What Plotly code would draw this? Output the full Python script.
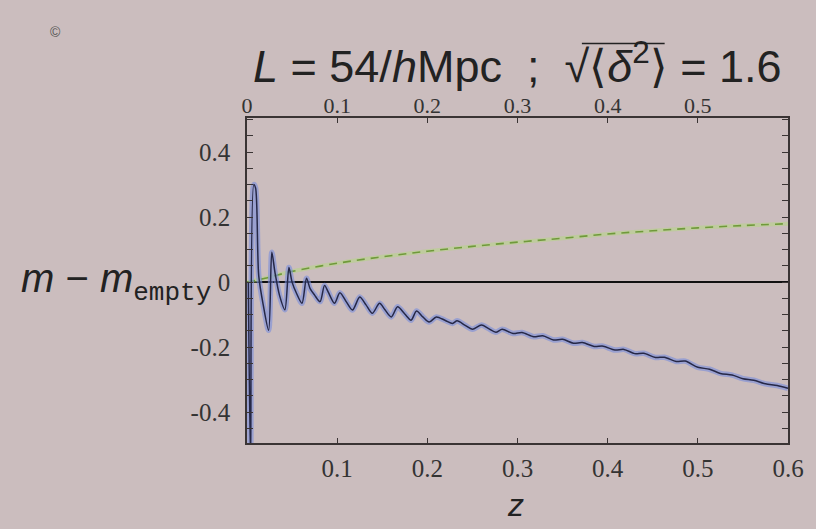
import plotly.graph_objects as go

# ---- data ----
z_osc = [0.0015, 0.004, 0.0075, 0.0095, 0.013, 0.018, 0.024, 0.0275, 0.031, 0.036,
         0.042, 0.0465, 0.050, 0.055, 0.061, 0.066, 0.070, 0.075, 0.081, 0.086,
         0.090, 0.097, 0.103, 0.110, 0.117, 0.125, 0.132, 0.139, 0.147, 0.153,
         0.160, 0.167, 0.175, 0.182, 0.188, 0.195, 0.202, 0.210, 0.220, 0.228,
         0.233, 0.242, 0.250, 0.260, 0.268, 0.276, 0.283, 0.295, 0.305, 0.318,
         0.328, 0.340, 0.350, 0.362, 0.372, 0.385, 0.395, 0.408, 0.418, 0.430,
         0.440, 0.453, 0.463, 0.476, 0.486, 0.500, 0.513, 0.525, 0.538, 0.550,
         0.562, 0.575, 0.588, 0.600]
m_osc = [0.0, -0.56, 0.30, 0.29, 0.02, -0.07, -0.148, 0.092, 0.03, -0.04,
         -0.085, 0.045, 0.0, -0.035, -0.065, 0.012, -0.02, -0.04, -0.06, -0.01,
         -0.03, -0.065, -0.033, -0.06, -0.086, -0.046, -0.07, -0.096, -0.065, -0.085,
         -0.107, -0.076, -0.098, -0.117, -0.089, -0.107, -0.123, -0.107, -0.118, -0.127,
         -0.119, -0.133, -0.145, -0.132, -0.143, -0.154, -0.145, -0.158, -0.155, -0.168,
         -0.165, -0.178, -0.176, -0.188, -0.186, -0.198, -0.197, -0.209, -0.207, -0.220,
         -0.219, -0.232, -0.231, -0.244, -0.243, -0.262, -0.268, -0.281, -0.286, -0.297,
         -0.302, -0.313, -0.318, -0.327]

z_smooth = [0.0, 0.02, 0.05, 0.10, 0.15, 0.20, 0.25, 0.30, 0.35, 0.40, 0.45, 0.50, 0.55, 0.60]
m_smooth = [0.0, 0.012, 0.033, 0.058, 0.078, 0.095, 0.110, 0.123, 0.135, 0.148, 0.158, 0.167, 0.174, 0.180]

bottom_ticks = [0.1, 0.2, 0.3, 0.4, 0.5, 0.6]
top_ticks = [0, 0.1, 0.2, 0.3, 0.4, 0.5]
y_ticks = [-0.4, -0.2, 0, 0.2, 0.4]
y_ticktext = ["-0.4", "-0.2", "0", "0.2", "0.4"]

BG = "#cbbdbe"
FRAME = "#3a3434"
SERIF = "Liberation Serif"
SANS = "Liberation Sans"

fig = go.Figure()
# green dashed curve (halo + dashes)
fig.add_trace(go.Scatter(x=z_smooth, y=m_smooth, mode="lines", line_shape="spline",
                         line=dict(color="rgba(180,218,125,0.5)", width=4),
                         hoverinfo="skip", showlegend=False))
fig.add_trace(go.Scatter(x=z_smooth, y=m_smooth, mode="lines", line_shape="spline",
                         line=dict(color="#6f9a3a", width=1.6, dash="8px,6px"),
                         showlegend=False))
# blue oscillating curve (halo + dark core)
fig.add_trace(go.Scatter(x=z_osc, y=m_osc, mode="lines", line_shape="spline",
                         line=dict(color="rgba(120,140,220,0.6)", width=5.5, smoothing=0.8),
                         hoverinfo="skip", showlegend=False))
fig.add_trace(go.Scatter(x=z_osc, y=m_osc, mode="lines", line_shape="spline",
                         line=dict(color="#262847", width=1.5, smoothing=0.8),
                         showlegend=False))
# invisible trace carrying the top axis
fig.add_trace(go.Scatter(x=[0, 0.6], y=[0, 0], xaxis="x2", mode="lines",
                         line=dict(width=0, color=BG), hoverinfo="skip", showlegend=False))

fig.update_layout(
    width=816, height=529,
    margin=dict(l=247, r=26, t=118, b=86),
    paper_bgcolor=BG, plot_bgcolor=BG,
    showlegend=False,
    xaxis=dict(range=[0, 0.6], tickvals=bottom_ticks,
               ticktext=[str(v) for v in bottom_ticks],
               ticks="inside", ticklen=5, tickcolor=FRAME,
               showline=True, linecolor=FRAME, linewidth=1.6, mirror=True,
               showgrid=False, zeroline=False,
               tickfont=dict(family=SERIF, size=25, color="#333"),
               ticklabelstandoff=2),
    xaxis2=dict(range=[0, 0.6], overlaying="x", side="top", tickvals=top_ticks,
                ticktext=[str(v) for v in top_ticks],
                ticks="inside", ticklen=5, tickcolor=FRAME,
                showline=False, showgrid=False, zeroline=False,
                tickfont=dict(family=SERIF, size=22, color="#333"),
                ticklabelstandoff=0),
    yaxis=dict(range=[-0.495, 0.505], tickvals=y_ticks, ticktext=y_ticktext,
               ticks="inside", ticklen=6, tickcolor=FRAME,
               minor=dict(dtick=0.05, tick0=0, ticks="inside", ticklen=3, tickcolor=FRAME),
               showline=True, linecolor=FRAME, linewidth=1.6, mirror="allticks",
               showgrid=False, zeroline=True, zerolinecolor="#111", zerolinewidth=2,
               tickfont=dict(family=SERIF, size=25, color="#333"),
               ticklabelstandoff=10),
)

annotations = [
    dict(text="<i>L</i> = 54/<i>h</i>Mpc  ;  √⟨<i>δ</i><sup>2</sup>⟩ = 1.6",
         x=0.5, y=1.17, xref="paper", yref="paper", xanchor="center", yanchor="middle",
         showarrow=False, font=dict(family=SANS, size=45, color="#222")),
    dict(text="<i>m</i> − <i>m</i><sub><span style=\"font-family:'Liberation Mono';font-size:26px\">empty</span></sub>",
         x=-0.062, y=0.495, xref="paper", yref="paper", xanchor="right", yanchor="middle",
         showarrow=False, font=dict(family=SANS, size=40, color="#222")),
    dict(text="<i>z</i>", x=0.497, y=-0.19, xref="paper", yref="paper",
         xanchor="center", yanchor="middle", showarrow=False,
         font=dict(family=SANS, size=32, color="#222")),
    dict(text="©", x=-0.354, y=1.265, xref="paper", yref="paper",
         xanchor="center", yanchor="middle", showarrow=False,
         font=dict(family=SANS, size=14, color="#555")),
]
fig.update_layout(annotations=annotations)

# overline (vinculum) of the square-root sign in the title
fig.add_shape(type="line", xref="paper", yref="paper",
              x0=0.619, x1=0.772, y0=1.229, y1=1.229,
              line=dict(color="#222", width=1.5))

fig.write_html("out.html")
